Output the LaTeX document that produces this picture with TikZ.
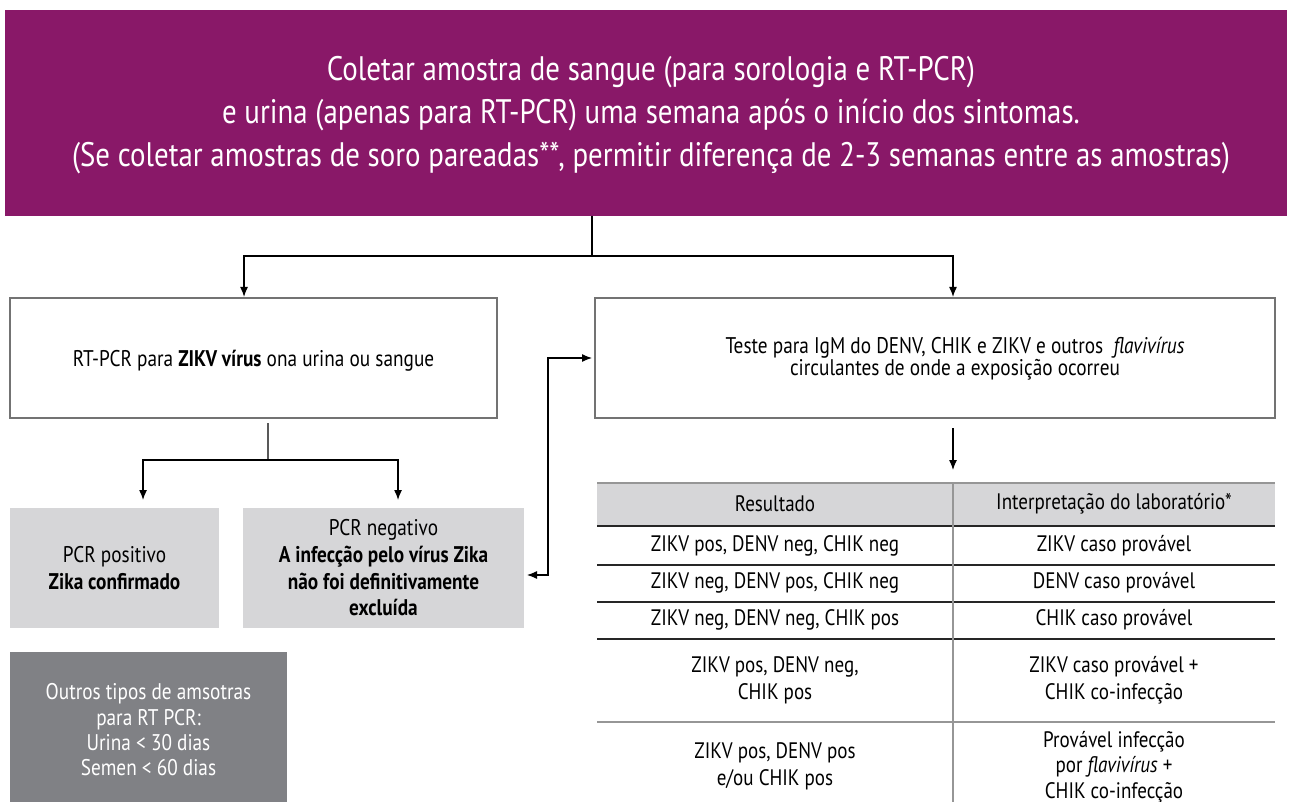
\documentclass[tikz,border=0pt]{standalone}
\usepackage{fontspec}
\setmainfont{PT Sans}[FakeStretch=0.85]
\usetikzlibrary{arrows.meta}
\definecolor{bannerc}{RGB}{137,24,104}
\definecolor{lgray}{RGB}{214,214,216}
\definecolor{dgray}{RGB}{128,129,133}
\definecolor{bordc}{RGB}{115,115,115}
\definecolor{rulegray}{RGB}{150,150,150}
\begin{document}
\begin{tikzpicture}[x=0.75pt,y=-0.75pt,
  every node/.style={inner sep=0pt,outer sep=0pt},
  arr/.style={-{Latex[length=7.5pt,width=6pt]},line width=0.9pt},
  dblarr/.style={{Latex[length=7.5pt,width=6pt]}-{Latex[length=7.5pt,width=6pt]},line width=0.9pt},
  conn/.style={line width=0.9pt},
  whitebox/.style={draw=bordc,line width=1.1pt,fill=white},
  graybox/.style={fill=lgray},
  txt/.style={font=\fontsize{17}{20}\selectfont,align=center,text=black},
  cell/.style={font=\fontsize{16.8}{20}\selectfont,align=center},
  darkrule/.style={line width=1.3pt,black!85},
  lightrule/.style={line width=1.1pt,rulegray}]
\useasboundingbox (0,0) rectangle (1289,802);
% banner
\node[fill=bannerc,minimum width=961.5pt,minimum height=154.5pt] (banner) at (646,113) {};
\node[text=white,font=\fontsize{25.5}{32}\selectfont,align=center] (bannertxt) at (651,115)
 {Coletar amostra de sangue (para sorologia e RT-PCR)\\
  e urina (apenas para RT-PCR) uma semana após o início dos sintomas.\\
  (Se coletar amostras de soro pareadas**, permitir diferença de 2-3 semanas entre as amostras)};
% main boxes
\node[whitebox,minimum width=365.25pt,minimum height=90pt] (lbox) at (253.5,358) {};
\node[txt] (ltxt) at (253.5,361) {RT-PCR para \textbf{ZIKV vírus} ona urina ou sangue};
\node[whitebox,minimum width=510pt,minimum height=90pt] (rbox) at (935,358) {};
\node[txt,font=\fontsize{17}{15}\selectfont] (rtxt) at (955,359) {Teste para IgM do DENV, CHIK e ZIKV e outros\ \ \textit{flavivírus}\\circulantes de onde a exposição ocorreu};
% top connectors
\coordinate (j1) at (592,256);
\draw[conn] (banner.south -| j1) -- (j1);
\draw[arr] (j1) -| ([xshift=-7.1pt,yshift=0.8pt]lbox.north);
\draw[arr] (j1) -| ([xshift=13.5pt,yshift=0.8pt]rbox.north);
% result boxes
\node[graybox,minimum width=156.75pt,minimum height=90pt] (pos) at (114.5,568) {};
\node[txt] (postxt) at (114.5,568) {PCR positivo\\\textbf{Zika confirmado}};
\node[graybox,minimum width=210.75pt,minimum height=90pt] (neg) at (383.5,568) {};
\node[txt] (negtxt) at (383.5,568) {PCR negativo\\\textbf{A infecção pelo vírus Zika}\\\textbf{não foi definitivamente}\\\textbf{excluída}};
\coordinate (j2) at (268,460);
\draw[conn] ([xshift=10.9pt,yshift=-3.75pt]lbox.south) -- (j2);
\draw[arr] (j2) -| ([xshift=21.4pt,yshift=6pt]pos.north);
\draw[arr] (j2) -| ([xshift=10.9pt,yshift=6pt]neg.north);
% double arrow
\coordinate (vx) at (548,0);
\draw[dblarr] ([xshift=2.25pt,yshift=-5.25pt]neg.east) -| (vx |- rbox.west) -- ([xshift=-2.25pt]rbox.west);
% bottom-left box
\node[fill=dgray,minimum width=207.75pt,minimum height=114pt] (other) at (148.5,728) {};
\node[txt,text=white,font=\fontsize{17}{19}\selectfont] (othertxt) at (148.5,730) {Outros tipos de amsotras\\para RT PCR:\\Urina < 30 dias\\Semen < 60 dias};
% table
\node[fill=lgray,minimum width=267pt,minimum height=31.5pt] (h1) at (775,504) {};
\node[fill=lgray,minimum width=241.5pt,minimum height=31.5pt] (h2) at (1114,504) {};
\node[cell] at (h1) {Resultado};
\node[cell] at (h2) {Interpretação do laboratório*};
\draw[arr] ([xshift=13.5pt,yshift=-7.5pt]rbox.south) -- ([yshift=9.75pt]h1.north east);
\draw[lightrule,line width=0.8pt] (h1.north west) -- (h2.north east);
\draw[darkrule] (597,526) -- (1275,526);
\draw[darkrule] (597,565) -- (1275,565);
\draw[darkrule] (597,602) -- (1275,602);
\draw[darkrule] (597,639) -- (1275,639);
\draw[lightrule] (597,722) -- (1275,722);
\draw[lightrule] (h1.north east) -- (953,802);
% row texts
\node[cell] (a1) at (775,546) {ZIKV pos, DENV neg, CHIK neg};
\node[cell] (b1) at (1114,546) {ZIKV caso provável};
\node[cell] (a2) at (775,583) {ZIKV neg, DENV pos, CHIK neg};
\node[cell] (b2) at (1114,583) {DENV caso provável};
\node[cell] (a3) at (775,620) {ZIKV neg, DENV neg, CHIK pos};
\node[cell] (b3) at (1114,620) {CHIK caso provável};
\node[cell] (a4) at (775,680) {ZIKV pos, DENV neg,\\CHIK pos};
\node[cell] (b4) at (1114,680) {ZIKV caso provável +\\CHIK co-infecção};
\node[cell] (a5) at (775,766) {ZIKV pos, DENV pos\\e/ou CHIK pos};
\node[cell,font=\fontsize{16.8}{19}\selectfont] (b5) at (1114,767) {Provável infecção\\por \textit{flavivírus} +\\CHIK co-infecção};
\end{tikzpicture}
\end{document}
